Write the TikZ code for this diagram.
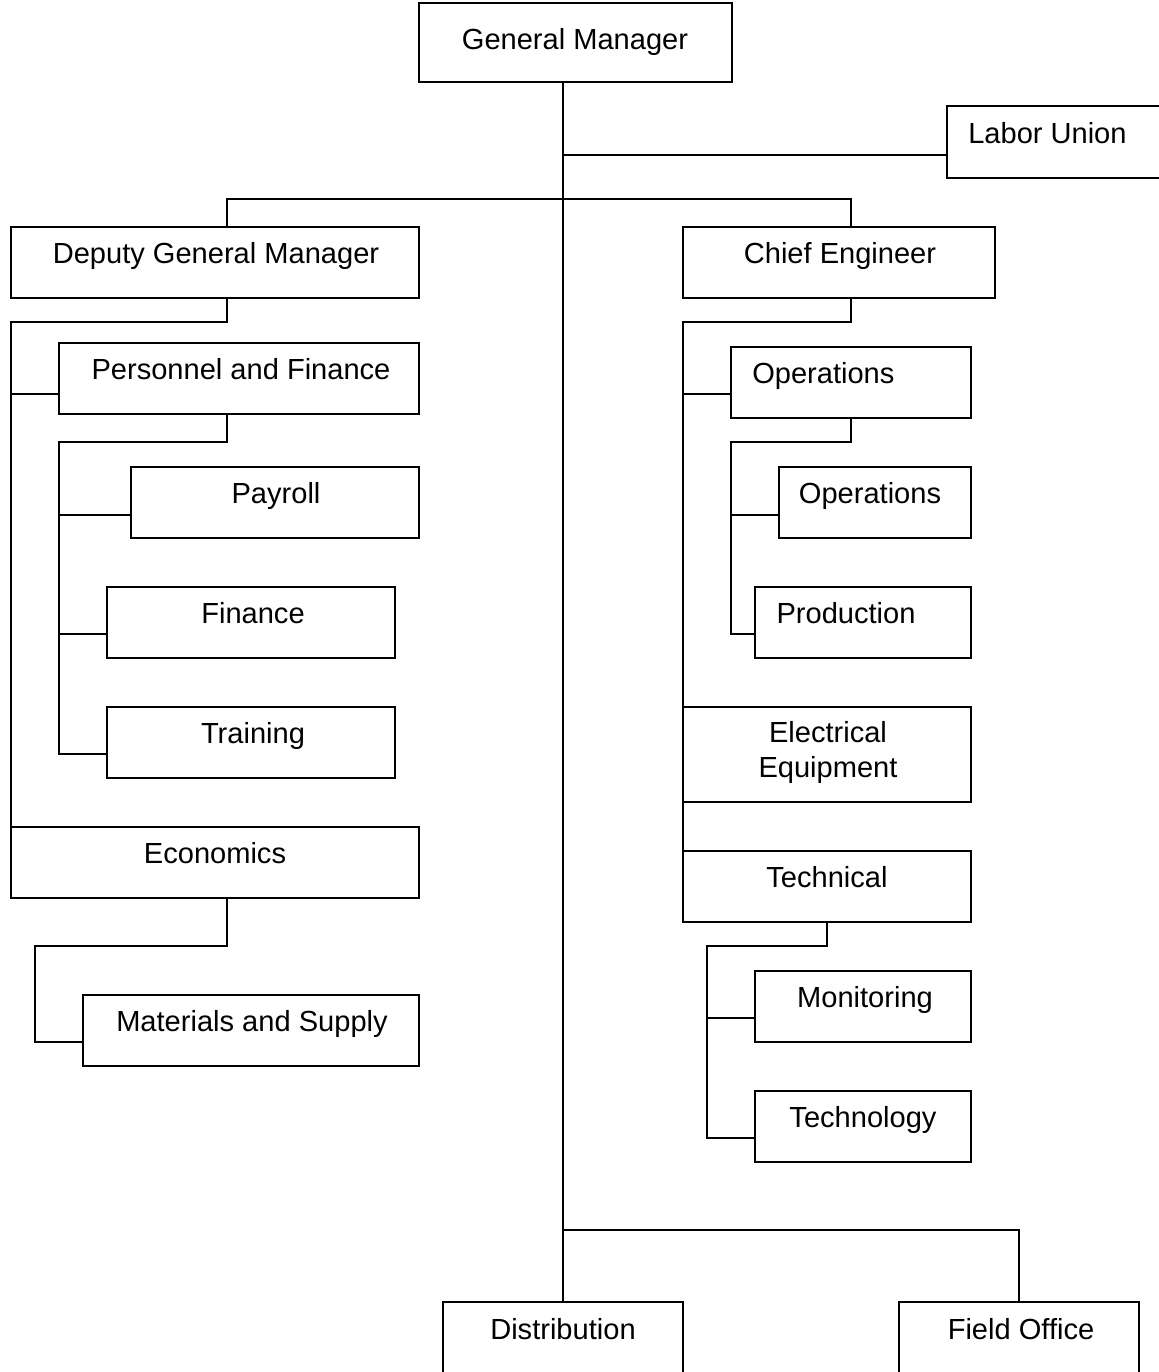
\documentclass[tikz,border=0pt]{standalone}
\usepackage{fontspec}
\setmainfont{Liberation Sans}
\usetikzlibrary{calc}
\newcommand{\bx}[5]{\node[box, minimum width={(#4-#2)*0.75pt}, minimum height={(#5-#3)*0.75pt}] (#1) at (#2,#3) {};}
\begin{document}
\begin{tikzpicture}[x=0.75pt, y=-0.75pt,
  box/.style={draw, line width=1.4pt, inner sep=0pt, outer sep=0pt, anchor=north west},
  lbl/.style={inner sep=0pt, font=\fontsize{21.8pt}{26.25pt}\selectfont, align=center},
  conn/.style={line width=1.4pt}]
\useasboundingbox (0,0) rectangle (1159,1372);
\clip (0,0) rectangle (1159,1372);
% boxes
\bx{gm}{419}{3}{732}{82}
\bx{lu}{947}{106}{1172}{178}
\bx{dgm}{11}{227}{419}{298}
\bx{ce}{683}{227}{995}{298}
\bx{pf}{59}{343}{419}{414}
\bx{pay}{131}{467}{419}{538}
\bx{fin}{107}{587}{395}{658}
\bx{trn}{107}{707}{395}{778}
\bx{econ}{11}{827}{419}{898}
\bx{mat}{83}{995}{419}{1066}
\bx{op1}{731}{347}{971}{418}
\bx{op2}{779}{467}{971}{538}
\bx{prod}{755}{587}{971}{658}
\bx{elec}{683}{707}{971}{802}
\bx{tech}{683}{851}{971}{922}
\bx{mon}{755}{971}{971}{1042}
\bx{techn}{755}{1091}{971}{1162}
\bx{dist}{443}{1302}{683}{1385}
\bx{fo}{899}{1302}{1139}{1385}
% labels
\node[lbl, anchor=base] (gm-t) at (575,49) {General Manager};
\node[lbl, anchor=base west] (lu-t) at (968,143) {Labor Union};
\node[lbl, anchor=base] (dgm-t) at (216,263) {Deputy General Manager};
\node[lbl, anchor=base] (ce-t) at (840,263) {Chief Engineer};
\node[lbl, anchor=base] (pf-t) at (241,379) {Personnel and Finance};
\node[lbl, anchor=base] (pay-t) at (276,503) {Payroll};
\node[lbl, anchor=base] (fin-t) at (253,623) {Finance};
\node[lbl, anchor=base] (trn-t) at (253,743) {Training};
\node[lbl, anchor=base] (econ-t) at (215,863) {Economics};
\node[lbl, anchor=base] (mat-t) at (252,1031) {Materials and Supply};
\node[lbl, anchor=base west] (op1-t) at (752,383) {Operations};
\node[lbl, anchor=base] (op2-t) at (870,503) {Operations};
\node[lbl, anchor=base] (prod-t) at (846,623) {Production};
\node[lbl, anchor=base] (elec-t1) at (828,742) {Electrical};
\node[lbl, anchor=base] (elec-t2) at (828,777) {Equipment};
\node[lbl, anchor=base] (tech-t) at (827,887) {Technical};
\node[lbl, anchor=base] (mon-t) at (865,1007) {Monitoring};
\node[lbl, anchor=base] (techn-t) at (863,1127) {Technology};
\node[lbl, anchor=base] (dist-t) at (563,1339) {Distribution};
\node[lbl, anchor=base] (fo-t) at (1021,1339) {Field Office};
% helper x positions
\coordinate (xa) at (227,0);
\coordinate (xb) at (851,0);
\coordinate (xc) at (827,0);
% connectors
\draw[conn] (gm.south -| dist.north) -- (dist.north);
\draw[conn] ($(lu.north west)+(0,49)$) -- ++(-384,0);
\draw[conn] (dgm.north -| xa) -- ++(0,-28) -| (ce.north -| xb);
\draw[conn] (dgm.south -| xa) |- (11,322) -- (econ.north west);
\draw[conn] ($(pf.north west)+(0,51)$) -- ++(-48,0);
\draw[conn] (pf.south -| xa) |- (59,442) |- ($(trn.north west)+(0,47)$);
\draw[conn] ($(pay.north west)+(0,48)$) -- ++(-72,0);
\draw[conn] ($(fin.north west)+(0,47)$) -- ++(-48,0);
\draw[conn] (econ.south -| xa) |- (35,946) |- ($(mat.north west)+(0,47)$);
\draw[conn] (ce.south -| xb) |- (683,322) -- (tech.north west);
\draw[conn] ($(op1.north west)+(0,47)$) -- ++(-48,0);
\draw[conn] (op1.south -| xb) |- (731,442) |- ($(prod.north west)+(0,47)$);
\draw[conn] ($(op2.north west)+(0,48)$) -- ++(-48,0);
\draw[conn] (tech.south -| xc) |- (707,946) |- ($(techn.north west)+(0,47)$);
\draw[conn] ($(mon.north west)+(0,47)$) -- ++(-48,0);
\draw[conn] (fo.north) |- (dist.north |- 0,1230);
\end{tikzpicture}
\end{document}
